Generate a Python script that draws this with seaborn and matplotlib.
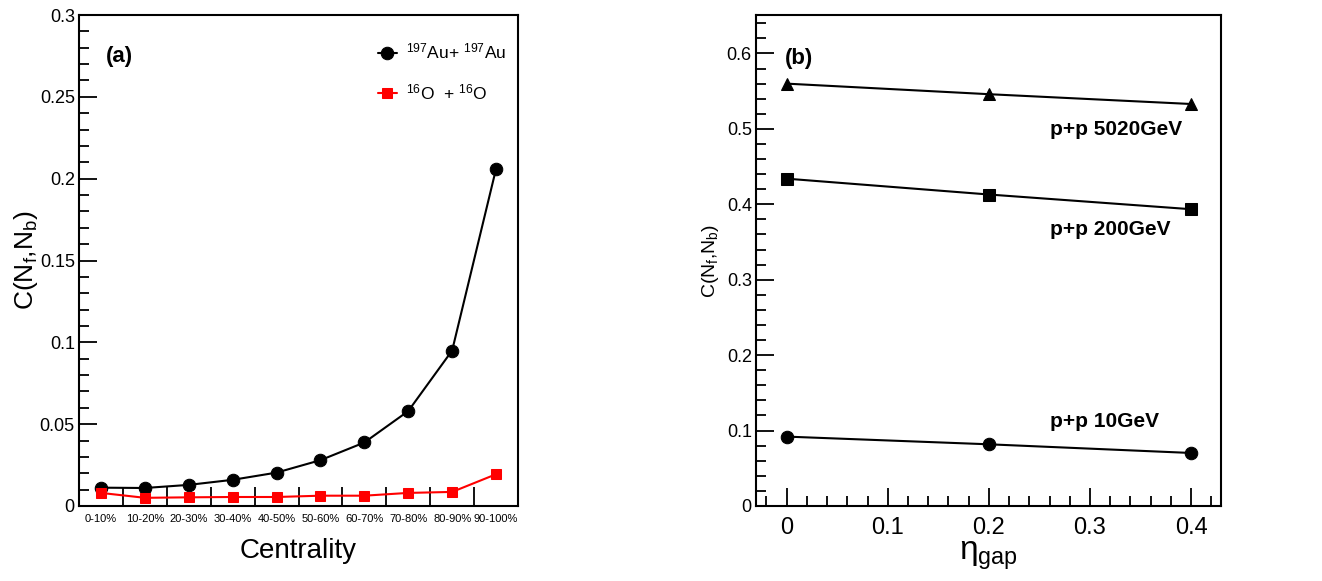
import numpy as np
import pandas as pd
import matplotlib
matplotlib.use("Agg")
import matplotlib.pyplot as plt
from matplotlib.ticker import MultipleLocator, FixedLocator
import seaborn as sns

# ---- data -------------------------------------------------------------
centrality = ["0-10%", "10-20%", "20-30%", "30-40%", "40-50%",
              "50-60%", "60-70%", "70-80%", "80-90%", "90-100%"]
c_auau = [0.0112, 0.0110, 0.0129, 0.0160, 0.0204,
          0.0280, 0.0388, 0.0580, 0.0950, 0.2060]
c_oo = [0.0080, 0.0050, 0.0053, 0.0055, 0.0055,
        0.0063, 0.0063, 0.0080, 0.0086, 0.0194]

eta_gap = [0.0, 0.2, 0.4]
c_pp_5020 = [0.560, 0.546, 0.533]
c_pp_200 = [0.434, 0.413, 0.3935]
c_pp_10 = [0.092, 0.0818, 0.0703]

# ---- style ------------------------------------------------------------
sns.set_theme(style="ticks")
base_font = "Liberation Sans"
plt.rcParams["font.family"] = [base_font, "DejaVu Sans"]
plt.rcParams["mathtext.fontset"] = "custom"
plt.rcParams["mathtext.rm"] = base_font
plt.rcParams["mathtext.it"] = base_font + ":italic"
plt.rcParams["mathtext.bf"] = base_font + ":bold"
for key in ["text.color", "axes.labelcolor", "xtick.color", "ytick.color",
            "axes.edgecolor", "xtick.labelcolor", "ytick.labelcolor"]:
    plt.rcParams[key] = "black"
plt.rcParams["axes.linewidth"] = 1.5

fig = plt.figure(figsize=(13.22, 5.81), dpi=100)
W, H = 1322, 581
ax_a = fig.add_axes([79 / W, (H - 506) / H, (518 - 79) / W, (506 - 15) / H])
ax_b = fig.add_axes([756 / W, (H - 506) / H, (1221 - 756) / W, (506 - 15) / H])


def root_ticks(ax):
    ax.tick_params(which="both", direction="in", top=False, right=False,
                   color="black", labelcolor="black", width=1.3)
    ax.tick_params(which="major", length=13)
    ax.tick_params(which="minor", length=7)
    for s in ax.spines.values():
        s.set_color("black")
        s.set_linewidth(1.5)


# ---- panel (a): correlation vs centrality ----------------------------
pos = np.arange(len(centrality)) + 0.5
df_a = pd.DataFrame({"pos": np.concatenate([pos, pos]),
                     "C": c_auau + c_oo,
                     "system": ["AuAu"] * len(pos) + ["OO"] * len(pos)})

sns.lineplot(data=df_a[df_a.system == "AuAu"], x="pos", y="C", ax=ax_a,
             color="black", marker="o", markersize=9, linewidth=1.5,
             markeredgecolor="black", label=r"$^{197}$Au+ $^{197}$Au")
sns.lineplot(data=df_a[df_a.system == "OO"], x="pos", y="C", ax=ax_a,
             color="red", marker="s", markersize=6.5, linewidth=1.5,
             markeredgecolor="red", label=r"$^{16}$O  + $^{16}$O")

ax_a.set_xlim(0, len(centrality))
ax_a.set_ylim(0, 0.3)
root_ticks(ax_a)
ax_a.xaxis.set_major_locator(FixedLocator(np.arange(0, len(centrality) + 1)))
ax_a.xaxis.set_minor_locator(FixedLocator(pos))
ax_a.tick_params(axis="x", which="major", length=14, labelbottom=False)
ax_a.tick_params(axis="x", which="minor", length=0, labelsize=8, pad=6)
ax_a.set_xticklabels(centrality, minor=True)
ax_a.yaxis.set_minor_locator(MultipleLocator(0.01))
ax_a.set_yticks(np.arange(0, 0.301, 0.05))
ax_a.set_yticklabels(["0", "0.05", "0.1", "0.15", "0.2", "0.25", "0.3"])
ax_a.tick_params(axis="y", which="major", labelsize=13, pad=3)
ax_a.set_xlabel("Centrality", fontsize=20, labelpad=10)
ax_a.set_ylabel(r"C(N$_{\mathrm{f}}$,N$_{\mathrm{b}}$)", fontsize=19, labelpad=0)
ax_a.text(0.062, 0.915, "(a)", transform=ax_a.transAxes, fontsize=16,
          fontweight="bold", va="center", ha="left")
ax_a.legend(loc="upper left", bbox_to_anchor=(0.645, 0.977), frameon=False,
            fontsize=12.5, handlelength=1.1, handletextpad=0.5,
            labelspacing=1.2)

# ---- panel (b): correlation vs eta gap --------------------------------
series_b = [(c_pp_5020, "^", 9, "p+p 5020GeV"),
            (c_pp_200, "s", 8, "p+p 200GeV"),
            (c_pp_10, "o", 9, "p+p 10GeV")]
for vals, mk, ms, _ in series_b:
    sns.lineplot(x=eta_gap, y=vals, ax=ax_b, color="black", marker=mk,
                 markersize=ms, linewidth=1.5, markeredgecolor="black")

label_y = [0.499, 0.366, 0.112]
for (_, _, _, txt), ty in zip(series_b, label_y):
    ax_b.text(0.26, ty, txt, fontsize=15, fontweight="bold",
              va="center", ha="left")

ax_b.set_xlim(-0.0303, 0.4296)
ax_b.set_ylim(0, 0.651)
root_ticks(ax_b)
ax_b.xaxis.set_minor_locator(MultipleLocator(0.02))
ax_b.yaxis.set_minor_locator(MultipleLocator(0.02))
ax_b.set_xticks([0, 0.1, 0.2, 0.3, 0.4])
ax_b.set_xticklabels(["0", "0.1", "0.2", "0.3", "0.4"])
ax_b.set_yticks([0, 0.1, 0.2, 0.3, 0.4, 0.5, 0.6])
ax_b.set_yticklabels(["0", "0.1", "0.2", "0.3", "0.4", "0.5", "0.6"])
ax_b.tick_params(axis="x", which="major", labelsize=17, pad=8)
ax_b.tick_params(axis="x", which="minor", length=7)
ax_b.tick_params(axis="y", which="major", labelsize=13, pad=3)
ax_b.set_xlabel(r"η$_{\mathrm{gap}}$", fontsize=24, labelpad=0)
ax_b.set_ylabel(r"C(N$_{\mathrm{f}}$,N$_{\mathrm{b}}$)", fontsize=14, labelpad=4)
ax_b.text(0.062, 0.912, "(b)", transform=ax_b.transAxes, fontsize=16,
          fontweight="bold", va="center", ha="left")

fig.savefig("out.png", dpi=100)
